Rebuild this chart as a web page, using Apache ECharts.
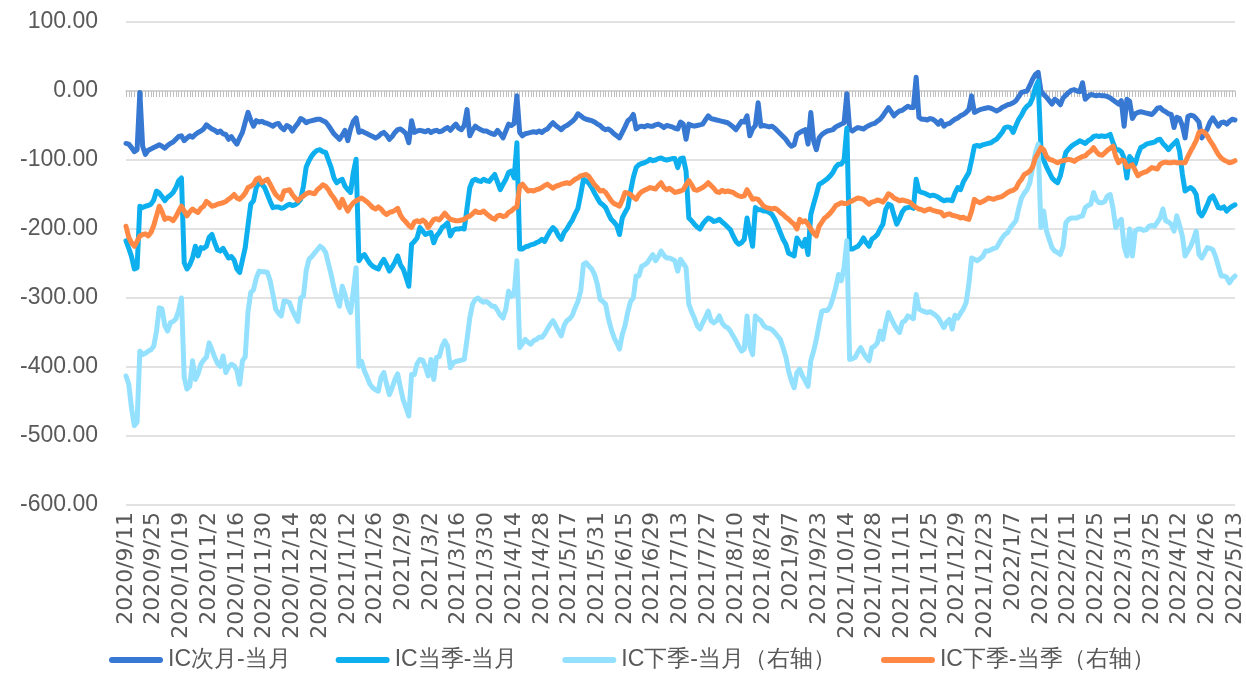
<!DOCTYPE html>
<html>
<head>
<meta charset="utf-8">
<script src="https://cdn.jsdelivr.net/npm/echarts@6/dist/echarts.min.js"></script>
<style>
html,body{margin:0;padding:0;background:#fff;}
#chart{width:1246px;height:694px;}
</style>
</head>
<body>
<div id="chart"></div>
<script>
// Trading dates (categories)
const dates = [
"2020/9/11","2020/9/14","2020/9/15","2020/9/16","2020/9/17","2020/9/18","2020/9/21","2020/9/22","2020/9/23","2020/9/24","2020/9/25","2020/9/28","2020/9/29","2020/9/30",
"2020/10/9","2020/10/12","2020/10/13","2020/10/14","2020/10/15","2020/10/16","2020/10/19","2020/10/20","2020/10/21","2020/10/22","2020/10/23","2020/10/26","2020/10/27","2020/10/28","2020/10/29","2020/10/30",
"2020/11/2","2020/11/3","2020/11/4","2020/11/5","2020/11/6","2020/11/9","2020/11/10","2020/11/11","2020/11/12","2020/11/13","2020/11/16","2020/11/17","2020/11/18","2020/11/19","2020/11/20","2020/11/23","2020/11/24","2020/11/25","2020/11/26","2020/11/27","2020/11/30",
"2020/12/1","2020/12/2","2020/12/3","2020/12/4","2020/12/7","2020/12/8","2020/12/9","2020/12/10","2020/12/11","2020/12/14","2020/12/15","2020/12/16","2020/12/17","2020/12/18","2020/12/21","2020/12/22","2020/12/23","2020/12/24","2020/12/25","2020/12/28","2020/12/29","2020/12/30","2020/12/31",
"2021/1/4","2021/1/5","2021/1/6","2021/1/7","2021/1/8","2021/1/11","2021/1/12","2021/1/13","2021/1/14","2021/1/15","2021/1/18","2021/1/19","2021/1/20","2021/1/21","2021/1/22","2021/1/25","2021/1/26","2021/1/27","2021/1/28","2021/1/29",
"2021/2/1","2021/2/2","2021/2/3","2021/2/4","2021/2/5","2021/2/8","2021/2/9","2021/2/10","2021/2/18","2021/2/19","2021/2/22","2021/2/23","2021/2/24","2021/2/25","2021/2/26",
"2021/3/1","2021/3/2","2021/3/3","2021/3/4","2021/3/5","2021/3/8","2021/3/9","2021/3/10","2021/3/11","2021/3/12","2021/3/15","2021/3/16","2021/3/17","2021/3/18","2021/3/19","2021/3/22","2021/3/23","2021/3/24","2021/3/25","2021/3/26","2021/3/29","2021/3/30","2021/3/31",
"2021/4/1","2021/4/2","2021/4/6","2021/4/7","2021/4/8","2021/4/9","2021/4/12","2021/4/13","2021/4/14","2021/4/15","2021/4/16","2021/4/19","2021/4/20","2021/4/21","2021/4/22","2021/4/23","2021/4/26","2021/4/27","2021/4/28","2021/4/29","2021/4/30",
"2021/5/6","2021/5/7","2021/5/10","2021/5/11","2021/5/12","2021/5/13","2021/5/14","2021/5/17","2021/5/18","2021/5/19","2021/5/20","2021/5/21","2021/5/24","2021/5/25","2021/5/26","2021/5/27","2021/5/28","2021/5/31",
"2021/6/1","2021/6/2","2021/6/3","2021/6/4","2021/6/7","2021/6/8","2021/6/9","2021/6/10","2021/6/11","2021/6/15","2021/6/16","2021/6/17","2021/6/18","2021/6/21","2021/6/22","2021/6/23","2021/6/24","2021/6/25","2021/6/28","2021/6/29","2021/6/30",
"2021/7/1","2021/7/2","2021/7/5","2021/7/6","2021/7/7","2021/7/8","2021/7/9","2021/7/12","2021/7/13","2021/7/14","2021/7/15","2021/7/16","2021/7/19","2021/7/20","2021/7/21","2021/7/22","2021/7/23","2021/7/26","2021/7/27","2021/7/28","2021/7/29","2021/7/30",
"2021/8/2","2021/8/3","2021/8/4","2021/8/5","2021/8/6","2021/8/9","2021/8/10","2021/8/11","2021/8/12","2021/8/13","2021/8/16","2021/8/17","2021/8/18","2021/8/19","2021/8/20","2021/8/23","2021/8/24","2021/8/25","2021/8/26","2021/8/27","2021/8/30","2021/8/31",
"2021/9/1","2021/9/2","2021/9/3","2021/9/6","2021/9/7","2021/9/8","2021/9/9","2021/9/10","2021/9/13","2021/9/14","2021/9/15","2021/9/16","2021/9/17","2021/9/22","2021/9/23","2021/9/24","2021/9/27","2021/9/28","2021/9/29","2021/9/30",
"2021/10/8","2021/10/11","2021/10/12","2021/10/13","2021/10/14","2021/10/15","2021/10/18","2021/10/19","2021/10/20","2021/10/21","2021/10/22","2021/10/25","2021/10/26","2021/10/27","2021/10/28","2021/10/29",
"2021/11/1","2021/11/2","2021/11/3","2021/11/4","2021/11/5","2021/11/8","2021/11/9","2021/11/10","2021/11/11","2021/11/12","2021/11/15","2021/11/16","2021/11/17","2021/11/18","2021/11/19","2021/11/22","2021/11/23","2021/11/24","2021/11/25","2021/11/26","2021/11/29","2021/11/30",
"2021/12/1","2021/12/2","2021/12/3","2021/12/6","2021/12/7","2021/12/8","2021/12/9","2021/12/10","2021/12/13","2021/12/14","2021/12/15","2021/12/16","2021/12/17","2021/12/20","2021/12/21","2021/12/22","2021/12/23","2021/12/24","2021/12/27","2021/12/28","2021/12/29","2021/12/30","2021/12/31",
"2022/1/4","2022/1/5","2022/1/6","2022/1/7","2022/1/10","2022/1/11","2022/1/12","2022/1/13","2022/1/14","2022/1/17","2022/1/18","2022/1/19","2022/1/20","2022/1/21","2022/1/24","2022/1/25","2022/1/26","2022/1/27","2022/1/28",
"2022/2/7","2022/2/8","2022/2/9","2022/2/10","2022/2/11","2022/2/14","2022/2/15","2022/2/16","2022/2/17","2022/2/18","2022/2/21","2022/2/22","2022/2/23","2022/2/24","2022/2/25","2022/2/28",
"2022/3/1","2022/3/2","2022/3/3","2022/3/4","2022/3/7","2022/3/8","2022/3/9","2022/3/10","2022/3/11","2022/3/14","2022/3/15","2022/3/16","2022/3/17","2022/3/18","2022/3/21","2022/3/22","2022/3/23","2022/3/24","2022/3/25","2022/3/28","2022/3/29","2022/3/30","2022/3/31",
"2022/4/1","2022/4/6","2022/4/7","2022/4/8","2022/4/11","2022/4/12","2022/4/13","2022/4/14","2022/4/15","2022/4/18","2022/4/19","2022/4/20","2022/4/21","2022/4/22","2022/4/25","2022/4/26","2022/4/27","2022/4/28","2022/4/29",
"2022/5/5","2022/5/6","2022/5/9","2022/5/10","2022/5/11","2022/5/12","2022/5/13"
];

const seriesNames = ["IC次月-当月","IC当季-当月","IC下季-当月（右轴）","IC下季-当季（右轴）"];

// IC次月-当月
const icNextMonth = [
-76,-77,-82,-88,-85,-2,-80,-92,-86,-84,
-82,-80,-78,-80,-83,-79,-76,-74,-70,-66,
-65,-72,-68,-65,-67,-63,-60,-58,-55,-49,
-52,-55,-57,-60,-58,-62,-63,-70,-66,-72,
-77,-68,-60,-45,-31,-42,-51,-43,-45,-44,
-46,-47,-49,-51,-48,-47,-53,-56,-50,-52,
-58,-52,-47,-40,-42,-46,-44,-43,-42,-41,
-41,-43,-45,-50,-56,-62,-66,-70,-64,-57,
-72,-55,-44,-39,-60,-58,-60,-62,-64,-66,
-68,-66,-62,-60,-64,-70,-66,-60,-56,-55,
-58,-62,-75,-43,-60,-58,-57,-58,-59,-57,
-60,-58,-57,-59,-58,-55,-53,-57,-52,-48,
-54,-56,-50,-27,-65,-57,-51,-54,-56,-58,
-58,-60,-62,-63,-57,-62,-68,-58,-48,-50,
-47,-7,-60,-65,-62,-61,-60,-59,-60,-58,
-60,-57,-55,-50,-46,-50,-53,-56,-52,-50,
-47,-44,-40,-33,-36,-39,-41,-42,-43,-45,
-48,-50,-54,-56,-55,-58,-62,-65,-68,-60,
-52,-43,-40,-34,-55,-52,-51,-52,-50,-51,
-51,-49,-48,-50,-53,-50,-51,-52,-54,-55,
-45,-48,-70,-48,-50,-51,-50,-49,-48,-42,
-36,-40,-41,-42,-43,-44,-45,-46,-49,-52,
-56,-50,-44,-45,-36,-65,-55,-50,-17,-51,
-50,-51,-52,-51,-54,-58,-62,-66,-70,-76,
-80,-78,-63,-60,-58,-56,-77,-31,-72,-85,
-68,-63,-60,-58,-57,-56,-52,-50,-48,-46,
-4,-55,-58,-55,-53,-54,-55,-52,-50,-48,
-47,-44,-41,-36,-30,-24,-30,-36,-32,-29,
-28,-25,-22,-24,-24,20,-38,-41,-41,-42,
-40,-41,-44,-48,-43,-51,-48,-47,-44,-41,
-39,-36,-34,-31,-27,-7,-31,-29,-27,-26,
-25,-24,-25,-27,-29,-27,-24,-22,-20,-19,
-17,-14,-8,-2,-1,0,8,17,24,27,
0,-5,-9,-14,-19,-12,-15,-20,-10,-6,
-2,1,2,0,-1,12,-12,-8,-5,-6,
-7,-6,-7,-7,-8,-10,-13,-16,-19,-14,
-51,-12,-15,-40,-33,-31,-30,-31,-32,-33,
-34,-30,-25,-24,-28,-30,-33,-34,-53,-38,
-40,-50,-68,-37,-35,-36,-40,-45,-68,-62,
-55,-45,-39,-45,-51,-46,-45,-48,-44,-41,
-42
];

// IC当季-当月
const icQuarterMonth = [
-217,-228,-240,-258,-256,-167,-169,-167,-166,-164,
-158,-145,-148,-153,-159,-154,-151,-147,-140,-130,
-126,-249,-258,-252,-242,-225,-239,-227,-228,-225,
-212,-208,-220,-230,-232,-228,-235,-242,-240,-245,
-258,-263,-245,-227,-195,-164,-159,-140,-133,-135,
-140,-150,-160,-169,-168,-168,-170,-169,-166,-164,
-166,-165,-162,-157,-138,-110,-101,-94,-89,-86,
-85,-88,-89,-100,-111,-126,-133,-130,-128,-138,
-143,-147,-118,-99,-246,-240,-237,-244,-250,-254,
-256,-258,-250,-244,-252,-261,-255,-248,-239,-252,
-258,-270,-283,-222,-218,-213,-198,-203,-208,-206,
-205,-220,-210,-205,-198,-195,-191,-210,-202,-200,
-200,-199,-200,-170,-140,-130,-128,-130,-131,-128,
-130,-131,-126,-121,-132,-143,-135,-128,-118,-116,
-126,-75,-229,-229,-226,-225,-223,-222,-220,-218,
-215,-218,-210,-203,-198,-202,-210,-215,-205,-200,
-193,-187,-178,-170,-150,-128,-130,-134,-140,-148,
-155,-162,-165,-169,-178,-186,-190,-195,-208,-184,
-176,-169,-145,-125,-111,-107,-105,-104,-102,-99,
-101,-100,-98,-97,-99,-100,-99,-98,-98,-111,
-98,-97,-116,-184,-188,-193,-197,-200,-193,-188,
-184,-186,-189,-188,-186,-190,-193,-197,-201,-210,
-218,-222,-220,-215,-184,-205,-225,-169,-172,-172,
-174,-174,-176,-179,-186,-195,-205,-215,-222,-235,
-237,-239,-213,-220,-225,-215,-237,-179,-164,-150,
-135,-133,-130,-127,-123,-118,-110,-106,-106,-100,
-54,-229,-229,-227,-225,-220,-213,-220,-225,-215,
-212,-208,-200,-193,-172,-164,-166,-180,-193,-185,
-175,-170,-169,-168,-170,-128,-145,-147,-148,-150,
-152,-151,-152,-154,-157,-159,-158,-158,-159,-148,
-140,-143,-132,-125,-118,-100,-80,-79,-80,-78,
-77,-76,-75,-72,-70,-65,-60,-53,-52,-53,
-60,-50,-41,-35,-27,-22,-19,-10,5,14,
-82,-100,-110,-118,-126,-130,-133,-123,-105,-89,
-84,-80,-77,-75,-72,-74,-76,-72,-70,-66,
-65,-66,-65,-66,-65,-63,-75,-85,-85,-88,
-97,-126,-95,-100,-106,-92,-82,-80,-77,-76,
-75,-74,-71,-70,-76,-80,-85,-80,-76,-72,
-87,-120,-145,-142,-140,-143,-150,-176,-181,-174,
-165,-155,-152,-160,-169,-170,-168,-174,-170,-167,
-165
];

// IC下季-当月（右轴）
const icNextQuarterMonth = [
-413,-425,-460,-485,-480,-377,-382,-380,-377,-375,
-370,-348,-314,-316,-340,-348,-336,-334,-330,-318,
-300,-415,-432,-428,-391,-418,-410,-396,-390,-386,
-365,-375,-386,-395,-399,-384,-408,-400,-396,-398,
-405,-425,-391,-385,-320,-292,-288,-271,-261,-262,
-262,-263,-275,-295,-316,-322,-326,-304,-305,-307,
-318,-326,-334,-300,-297,-260,-244,-240,-235,-230,
-225,-228,-234,-250,-266,-285,-300,-312,-283,-295,
-312,-321,-290,-256,-399,-392,-406,-415,-425,-430,
-433,-435,-415,-408,-425,-440,-430,-418,-410,-430,
-448,-459,-471,-411,-411,-395,-389,-390,-400,-413,
-389,-418,-386,-385,-370,-362,-370,-401,-394,-392,
-391,-390,-389,-360,-329,-309,-302,-300,-304,-306,
-305,-308,-312,-312,-318,-325,-329,-316,-290,-298,
-295,-246,-372,-366,-360,-364,-367,-362,-360,-357,
-357,-352,-345,-338,-333,-340,-348,-355,-340,-333,
-330,-325,-314,-305,-290,-251,-249,-254,-258,-266,
-280,-302,-305,-309,-330,-345,-357,-365,-374,-353,
-340,-320,-305,-300,-268,-268,-254,-252,-249,-243,
-237,-246,-240,-232,-238,-242,-242,-244,-246,-261,
-244,-250,-256,-309,-320,-329,-340,-345,-336,-328,
-319,-333,-336,-333,-326,-336,-341,-343,-348,-355,
-362,-370,-377,-374,-326,-370,-382,-326,-330,-333,
-340,-343,-344,-346,-350,-355,-360,-372,-385,-406,
-420,-430,-408,-403,-413,-420,-428,-391,-377,-360,
-338,-319,-318,-318,-312,-300,-285,-266,-275,-256,
-217,-389,-388,-386,-378,-372,-380,-386,-391,-372,
-370,-365,-348,-360,-338,-321,-330,-338,-345,-350,
-335,-333,-326,-328,-330,-295,-316,-318,-320,-321,
-320,-322,-325,-329,-336,-343,-335,-331,-345,-325,
-329,-322,-316,-307,-280,-242,-244,-246,-243,-240,
-232,-232,-230,-228,-227,-220,-213,-208,-205,-198,
-193,-188,-170,-155,-148,-143,-133,-111,-90,-77,
-198,-174,-203,-215,-227,-232,-234,-237,-225,-191,
-186,-184,-184,-184,-182,-181,-169,-166,-164,-147,
-158,-162,-162,-160,-152,-150,-170,-198,-190,-186,
-225,-239,-200,-239,-203,-200,-200,-202,-201,-196,
-195,-196,-190,-184,-171,-188,-190,-193,-203,-181,
-195,-210,-239,-232,-225,-215,-203,-237,-242,-235,
-227,-228,-230,-240,-254,-268,-268,-270,-278,-272,
-268
];

// IC下季-当季（右轴）
const icNextQuarterQuarter = [
-196,-212,-220,-225,-218,-210,-208,-207,-210,-205,
-195,-181,-167,-175,-186,-184,-185,-188,-182,-174,
-167,-174,-181,-175,-171,-174,-176,-170,-167,-160,
-163,-167,-166,-164,-163,-162,-160,-157,-154,-150,
-155,-157,-153,-148,-140,-138,-135,-128,-126,-133,
-130,-128,-135,-143,-150,-154,-157,-145,-144,-143,
-150,-155,-159,-155,-152,-149,-147,-148,-149,-143,
-140,-136,-138,-143,-150,-155,-162,-169,-157,-166,
-174,-167,-162,-159,-157,-155,-158,-161,-165,-169,
-171,-168,-171,-176,-179,-176,-175,-173,-170,-180,
-186,-190,-195,-198,-190,-188,-190,-187,-190,-198,
-192,-186,-185,-187,-182,-177,-182,-186,-187,-188,
-188,-187,-186,-183,-181,-178,-174,-176,-176,-174,
-178,-181,-184,-186,-181,-180,-182,-181,-176,-174,
-170,-168,-138,-135,-140,-145,-144,-145,-143,-142,
-140,-137,-135,-138,-141,-138,-137,-135,-134,-133,
-134,-131,-128,-126,-123,-122,-121,-124,-130,-136,
-140,-145,-144,-147,-153,-159,-163,-165,-167,-158,
-147,-148,-150,-154,-157,-150,-146,-144,-142,-140,
-141,-142,-137,-133,-140,-143,-141,-144,-147,-146,
-145,-143,-136,-130,-136,-143,-144,-142,-140,-137,
-133,-137,-141,-146,-147,-144,-146,-145,-146,-147,
-150,-152,-153,-152,-143,-150,-157,-156,-157,-162,
-167,-169,-170,-171,-170,-172,-176,-179,-183,-186,
-190,-193,-200,-186,-190,-188,-193,-200,-206,-210,
-196,-190,-184,-181,-177,-172,-166,-164,-162,-163,
-163,-161,-159,-157,-155,-156,-157,-161,-164,-161,
-160,-158,-159,-161,-156,-149,-151,-155,-157,-159,
-158,-159,-160,-162,-166,-169,-171,-172,-174,-172,
-171,-173,-174,-175,-176,-181,-179,-178,-180,-181,
-182,-184,-183,-185,-186,-174,-157,-160,-162,-160,
-158,-155,-156,-157,-155,-154,-153,-150,-147,-145,
-144,-141,-133,-128,-121,-119,-116,-110,-97,-90,
-82,-85,-95,-99,-100,-102,-104,-102,-101,-100,
-99,-100,-102,-99,-97,-95,-94,-90,-87,-82,
-88,-92,-93,-90,-86,-83,-80,-95,-104,-100,
-101,-110,-109,-107,-115,-123,-120,-118,-117,-114,
-111,-112,-113,-106,-104,-103,-104,-104,-103,-104,
-104,-104,-104,-95,-87,-80,-72,-60,-58,-60,
-65,-72,-78,-85,-92,-97,-100,-102,-104,-103,
-101
];

const yMin = -600, yMax = 100, yStep = 100;
const colors = ["#3778D3", "#0DAFEF", "#93E1FF", "#FF8944"];

const chart = echarts.init(document.getElementById('chart'), null, {renderer: 'canvas'});
const capsule = 'path://M3,0H51A3,3,0,0,1,51,6H3A3,3,0,0,1,3,0Z';
const font = 'Liberation Sans';

const option = {
  animation: false,
  backgroundColor: '#ffffff',
  grid: {left: 126, right: 10, top: 22, bottom: 189, containLabel: false},
  legend: {
    data: seriesNames,
    left: 104, top: 641,
    icon: capsule, itemWidth: 54, itemHeight: 6, itemGap: 45,
    textStyle: {fontFamily: font, fontSize: 23, color: '#595959', lineHeight: 28}
  },
  xAxis: [
    {
      type: 'category', data: dates, boundaryGap: false,
      axisLine: {show: false, onZero: false}, axisTick: {show: false},
      splitLine: {show: false},
      axisLabel: {interval: 9, rotate: 90, fontFamily: 'DejaVu Sans', fontSize: 22, color: '#595959', margin: 7}
    },
    {
      type: 'category', data: dates, boundaryGap: false, position: 'bottom',
      axisLine: {show: true, onZero: true, onZeroAxisIndex: 0, lineStyle: {color: '#d0d0d0', width: 1.5}},
      axisTick: {show: true, interval: 0, length: 6, lineStyle: {color: '#bfbfbf', width: 1}},
      axisLabel: {show: false}, splitLine: {show: false}
    }
  ],
  yAxis: {
    type: 'value', min: yMin, max: yMax, interval: yStep,
    axisLine: {show: false}, axisTick: {show: false},
    splitLine: {lineStyle: {color: '#d9d9d9', width: 1.5}},
    axisLabel: {formatter: v => v.toFixed(2), fontFamily: font, fontSize: 23, color: '#595959', margin: 28}
  },
  series: [
    {name: seriesNames[0], data: icNextMonth},
    {name: seriesNames[1], data: icQuarterMonth},
    {name: seriesNames[2], data: icNextQuarterMonth},
    {name: seriesNames[3], data: icNextQuarterQuarter}
  ].map((s, i) => ({
    name: s.name, type: 'line', data: s.data, xAxisIndex: 0, yAxisIndex: 0,
    symbol: 'none', smooth: false, color: colors[i],
    lineStyle: {width: 5, color: colors[i], join: 'round', cap: 'round'},
    emphasis: {disabled: true}
  }))
};
chart.setOption(option);
</script>
</body>
</html>
